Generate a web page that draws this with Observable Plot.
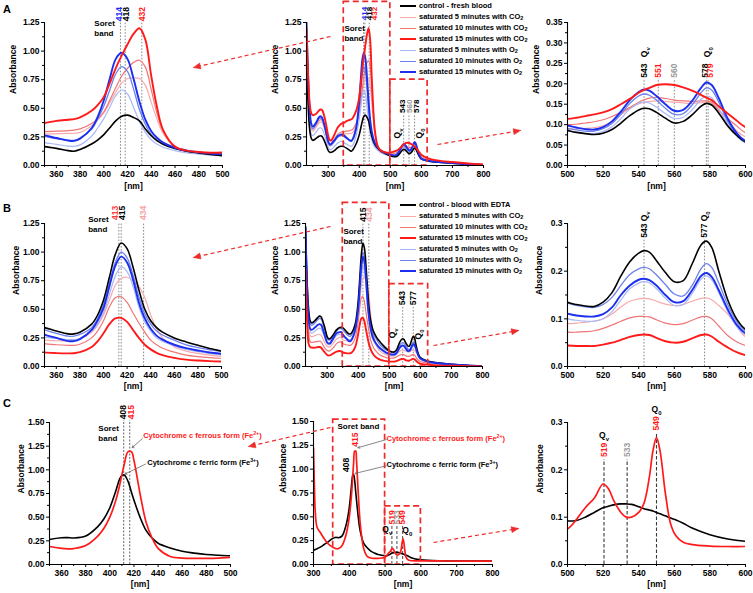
<!DOCTYPE html>
<html><head><meta charset="utf-8">
<script src="https://cdn.jsdelivr.net/npm/d3@7"></script>
<script src="https://cdn.jsdelivr.net/npm/@observablehq/plot@0.6"></script>
<style>
body{margin:0;background:#fff;}
#fig{position:relative;width:753px;height:593px;overflow:hidden;background:#fff;font-family:'Liberation Sans',Arial,Helvetica,sans-serif;}
#fig svg{position:absolute;overflow:visible;}
.lg{position:absolute;font-size:7.5px;font-weight:bold;white-space:nowrap;line-height:10px;height:10px;}
.lg .sw{display:inline-block;width:16px;height:0;vertical-align:middle;margin-right:3px;}
.lg sub{font-size:5.5px;vertical-align:-1px;}
.letter{position:absolute;font-size:11px;font-weight:bold;}
</style></head><body><div id="fig"></div>
<script>
// ---------- DATA ----------
// wavelength grid (nm) for rows A and B
const wlAB = [230,235,240,245,250, 260,270,275,280,290, 300,305,310,320,330, 340,345,350,360,370,
  375,380,390,395,400, 405,410,415,420,425, 430,435,440,445,450, 460,470,480,490,500,
  505,510,515,520,525, 530,535,540,543,546, 550,555,560,565,570, 575,578,581,585,590,
  595,600,620,650,700, 750,800];

// Row A – fresh blood
const A_control = [0.95,0.55,0.32,0.24,0.22, 0.235,0.255,0.26,0.255,0.2, 0.13,0.115,0.115,0.13,0.155, 0.168,0.168,0.165,0.15,0.13,
  0.125,0.14,0.19,0.225,0.27, 0.33,0.39,0.43,0.44,0.42, 0.39,0.32,0.26,0.215,0.185, 0.148,0.125,0.11,0.097,0.086,
  0.081,0.078,0.076,0.079,0.088, 0.104,0.122,0.136,0.14,0.139, 0.13,0.116,0.104,0.108,0.124, 0.145,0.152,0.148,0.128,0.097,
  0.074,0.058,0.04,0.03,0.02, 0.012,0.006];
const A_co2_5 = [1.05,0.65,0.42,0.32,0.3, 0.33,0.37,0.38,0.375,0.3, 0.19,0.17,0.175,0.215,0.255, 0.27,0.275,0.275,0.278,0.28,
  0.282,0.29,0.35,0.4,0.46, 0.55,0.64,0.72,0.76,0.765, 0.76,0.7,0.55,0.4,0.28, 0.16,0.122,0.105,0.095,0.09,
  0.09,0.091,0.093,0.097,0.108, 0.124,0.14,0.151,0.155,0.157, 0.158,0.157,0.155,0.153,0.152, 0.154,0.155,0.151,0.13,0.106,
  0.085,0.07,0.048,0.035,0.024, 0.014,0.007];
const A_co2_10 = [1.1,0.7,0.45,0.34,0.32, 0.35,0.39,0.4,0.395,0.32, 0.2,0.18,0.185,0.23,0.27, 0.29,0.295,0.296,0.3,0.305,
  0.31,0.32,0.37,0.41,0.47, 0.57,0.68,0.78,0.85,0.9, 0.92,0.86,0.66,0.45,0.3, 0.165,0.128,0.11,0.103,0.1,
  0.101,0.104,0.107,0.112,0.12, 0.13,0.142,0.155,0.161,0.165, 0.167,0.164,0.16,0.158,0.157, 0.158,0.158,0.155,0.135,0.115,
  0.097,0.08,0.055,0.04,0.027, 0.016,0.008];
const A_co2_15 = [1.2,0.8,0.55,0.46,0.44, 0.45,0.48,0.49,0.485,0.4, 0.26,0.22,0.22,0.27,0.33, 0.36,0.37,0.372,0.39,0.4,
  0.405,0.42,0.48,0.53,0.6, 0.72,0.85,0.96,1.06,1.15, 1.2,1.1,0.78,0.5,0.31, 0.165,0.13,0.118,0.112,0.114,
  0.117,0.121,0.125,0.13,0.138, 0.15,0.163,0.178,0.185,0.19, 0.197,0.199,0.197,0.191,0.183, 0.173,0.166,0.16,0.145,0.127,
  0.11,0.094,0.065,0.045,0.03, 0.018,0.01];
const A_o2_5 = [1.0,0.62,0.38,0.28,0.26, 0.29,0.325,0.33,0.32,0.25, 0.16,0.14,0.14,0.165,0.195, 0.21,0.21,0.2,0.185,0.17,
  0.168,0.18,0.26,0.33,0.41, 0.51,0.61,0.66,0.625,0.51, 0.385,0.29,0.225,0.185,0.16, 0.13,0.11,0.1,0.09,0.085,
  0.081,0.078,0.078,0.083,0.095, 0.115,0.138,0.152,0.155,0.153, 0.143,0.127,0.115,0.118,0.136, 0.162,0.17,0.166,0.14,0.1,
  0.072,0.055,0.039,0.029,0.019, 0.01,0.005];
const A_o2_10 = [1.15,0.75,0.47,0.35,0.32, 0.36,0.41,0.415,0.405,0.32, 0.2,0.175,0.18,0.21,0.245, 0.26,0.26,0.255,0.235,0.22,
  0.22,0.24,0.32,0.41,0.52, 0.66,0.8,0.865,0.82,0.67, 0.49,0.36,0.27,0.22,0.185, 0.15,0.125,0.11,0.1,0.091,
  0.087,0.084,0.084,0.09,0.103, 0.125,0.152,0.17,0.175,0.172, 0.16,0.14,0.125,0.127,0.148, 0.178,0.19,0.185,0.155,0.108,
  0.076,0.057,0.04,0.03,0.02, 0.011,0.005];
const A_o2_15 = [1.25,0.8,0.5,0.37,0.34, 0.37,0.42,0.43,0.42,0.33, 0.21,0.185,0.19,0.22,0.255, 0.27,0.27,0.263,0.24,0.218,
  0.215,0.235,0.33,0.43,0.57, 0.76,0.93,0.985,0.93,0.76, 0.56,0.4,0.3,0.24,0.2, 0.155,0.13,0.115,0.105,0.098,
  0.093,0.089,0.088,0.094,0.108, 0.132,0.16,0.18,0.186,0.183, 0.17,0.15,0.134,0.136,0.158, 0.19,0.203,0.197,0.165,0.115,
  0.08,0.06,0.042,0.032,0.022, 0.012,0.006];

// Row B – blood with EDTA
const B_control = [1.22,0.75,0.5,0.4,0.38, 0.4,0.43,0.44,0.435,0.36, 0.26,0.24,0.245,0.28,0.32, 0.34,0.342,0.34,0.31,0.285,
  0.285,0.3,0.37,0.45,0.58, 0.78,0.98,1.08,1.03,0.87, 0.67,0.5,0.4,0.34,0.3, 0.25,0.215,0.185,0.158,0.135,
  0.13,0.127,0.126,0.135,0.155, 0.19,0.22,0.238,0.243,0.24, 0.222,0.197,0.178,0.18,0.215, 0.255,0.263,0.25,0.2,0.14,
  0.1,0.078,0.05,0.035,0.02, 0.01,0.004];
const B_co2_5 = [1.0,0.55,0.34,0.27,0.26, 0.27,0.28,0.28,0.275,0.22, 0.175,0.17,0.175,0.205,0.24, 0.255,0.255,0.233,0.225,0.225,
  0.228,0.24,0.3,0.36,0.45, 0.58,0.71,0.77,0.78,0.75, 0.7,0.6,0.45,0.33,0.25, 0.17,0.135,0.115,0.1,0.09,
  0.091,0.093,0.095,0.1,0.11, 0.125,0.137,0.142,0.143,0.142, 0.137,0.131,0.128,0.13,0.137, 0.143,0.144,0.14,0.128,0.11,
  0.085,0.062,0.04,0.028,0.016, 0.008,0.003];
const B_co2_10 = [0.95,0.5,0.28,0.22,0.21, 0.215,0.22,0.222,0.215,0.17, 0.14,0.135,0.14,0.165,0.2, 0.215,0.215,0.2,0.19,0.185,
  0.185,0.195,0.25,0.31,0.4, 0.52,0.6,0.61,0.56,0.47, 0.38,0.3,0.23,0.19,0.16, 0.125,0.1,0.087,0.078,0.072,
  0.072,0.073,0.075,0.08,0.087, 0.095,0.102,0.105,0.105,0.104, 0.098,0.091,0.088,0.09,0.097, 0.104,0.105,0.1,0.085,0.065,
  0.052,0.044,0.03,0.02,0.012, 0.006,0.002];
const B_co2_15 = [0.85,0.4,0.2,0.17,0.165, 0.165,0.17,0.17,0.165,0.13, 0.1,0.095,0.1,0.115,0.13, 0.135,0.133,0.123,0.117,0.115,
  0.116,0.125,0.17,0.22,0.29, 0.37,0.42,0.425,0.39,0.32, 0.25,0.19,0.15,0.12,0.1, 0.075,0.06,0.052,0.047,0.044,
  0.043,0.043,0.043,0.046,0.05, 0.056,0.062,0.066,0.067,0.066, 0.06,0.053,0.05,0.052,0.059, 0.066,0.067,0.063,0.052,0.04,
  0.03,0.024,0.016,0.01,0.006, 0.003,0.001];
const B_o2_5 = [1.15,0.66,0.4,0.31,0.29, 0.31,0.33,0.335,0.33,0.27, 0.2,0.19,0.195,0.235,0.27, 0.28,0.275,0.257,0.245,0.235,
  0.235,0.245,0.31,0.37,0.47, 0.63,0.79,0.87,0.83,0.7, 0.52,0.39,0.31,0.25,0.22, 0.18,0.15,0.13,0.112,0.1,
  0.097,0.095,0.095,0.1,0.115, 0.14,0.163,0.175,0.178,0.175, 0.163,0.143,0.128,0.13,0.153, 0.183,0.19,0.182,0.155,0.115,
  0.084,0.066,0.042,0.029,0.017, 0.009,0.003];
const B_o2_10 = [1.2,0.72,0.47,0.38,0.36, 0.38,0.41,0.42,0.415,0.34, 0.245,0.23,0.235,0.27,0.31, 0.33,0.332,0.32,0.29,0.265,
  0.265,0.28,0.34,0.42,0.54, 0.73,0.91,1.0,0.95,0.8, 0.61,0.46,0.37,0.31,0.275, 0.23,0.19,0.165,0.145,0.133,
  0.128,0.125,0.124,0.13,0.145, 0.17,0.193,0.205,0.208,0.205, 0.192,0.172,0.152,0.148,0.17, 0.205,0.216,0.208,0.175,0.13,
  0.095,0.075,0.048,0.033,0.019, 0.01,0.004];
const B_o2_15 = [1.22,0.7,0.42,0.33,0.32, 0.34,0.365,0.37,0.365,0.29, 0.21,0.2,0.205,0.25,0.29, 0.3,0.3,0.278,0.25,0.222,
  0.222,0.24,0.32,0.4,0.51, 0.7,0.88,0.96,0.91,0.76, 0.56,0.42,0.33,0.27,0.235, 0.19,0.16,0.14,0.122,0.111,
  0.107,0.105,0.105,0.11,0.124, 0.15,0.17,0.182,0.184,0.181, 0.17,0.15,0.135,0.137,0.16, 0.19,0.196,0.188,0.16,0.12,
  0.088,0.07,0.045,0.031,0.018, 0.009,0.004];

// Row C – cytochrome c
const wlC = [300,302,305,310,320, 330,340,350,360,365, 370,380,390,395,400, 405,408,410,412,415,
  418,420,425,430,435, 440,450,460,470,480, 490,500,505,510,515, 520,523,526,530,533,
  536,540,543,546,548, 550,552,555,558,561, 565,570,580,590,600, 650,700,750,800];
const C_ferric = [0.15,0.153,0.158,0.165,0.185, 0.21,0.235,0.265,0.283,0.284, 0.28,0.3,0.4,0.48,0.6, 0.78,0.9,0.94,0.945,0.88,
  0.76,0.68,0.5,0.36,0.28, 0.225,0.175,0.14,0.12,0.105, 0.097,0.092,0.093,0.1,0.11, 0.12,0.123,0.126,0.128,0.128,
  0.127,0.122,0.118,0.115,0.113, 0.11,0.107,0.103,0.098,0.094, 0.087,0.077,0.063,0.054,0.049, 0.04,0.037,0.036,0.035];
const C_ferrous = [1.22,0.9,0.55,0.39,0.33, 0.27,0.22,0.19,0.17,0.165, 0.168,0.2,0.3,0.38,0.5, 0.68,0.83,0.95,1.06,1.19,
  1.19,1.1,0.75,0.45,0.28, 0.17,0.085,0.068,0.065,0.065, 0.068,0.075,0.095,0.12,0.14, 0.17,0.16,0.135,0.11,0.1,
  0.1,0.11,0.13,0.185,0.24, 0.268,0.24,0.15,0.085,0.06, 0.047,0.042,0.039,0.038,0.038, 0.037,0.036,0.035,0.035];

const legendA = ["control - fresh blood","saturated 5 minutes with CO2","saturated 10 minutes with CO2","saturated 15 minutes with CO2",
  "saturated 5 minutes with O2","saturated 10 minutes with O2","saturated 15 minutes with O2"];
const legendB = ["control - blood with EDTA","saturated 5 minutes with CO2","saturated 10 minutes with CO2","saturated 15 minutes with CO2",
  "saturated 5 minutes with O2","saturated 10 minutes with O2","saturated 15 minutes with O2"];
const seriesKeys = ["control","co2_5","co2_10","co2_15","o2_5","o2_10","o2_15"];

// ---------- STYLE ----------
const FONT = "'Liberation Sans', Arial, Helvetica, sans-serif";
const BLUE = "#1c2fef", RED = "#ff1a1a", GRAY = "#9a9a9a", PINK = "#f5a3a3", BOX = "#ee2b2b";
const STY = {
  control: {stroke: "#000", w: 1.6},
  co2_5: {stroke: "#f7abab", w: 1.2},
  co2_10: {stroke: "#f07676", w: 1.2},
  co2_15: {stroke: "#ff1a1a", w: 1.9},
  o2_5: {stroke: "#aab8f6", w: 1.2},
  o2_10: {stroke: "#6d82ee", w: 1.3},
  o2_15: {stroke: "#1c2fef", w: 1.9},
  ferric: {stroke: "#000", w: 1.6},
  ferrous: {stroke: "#ff1a1a", w: 1.7}
};
const ORDER = ["co2_5","co2_10","o2_5","o2_10","control","o2_15","co2_15"];
const A = {control: A_control, co2_5: A_co2_5, co2_10: A_co2_10, co2_15: A_co2_15, o2_5: A_o2_5, o2_10: A_o2_10, o2_15: A_o2_15};
const B = {control: B_control, co2_5: B_co2_5, co2_10: B_co2_10, co2_15: B_co2_15, o2_5: B_o2_5, o2_10: B_o2_10, o2_15: B_o2_15};
const C = {ferric: C_ferric, ferrous: C_ferrous};

const fig = document.getElementById("fig");
const M = {l: 40, r: 14, t: 30, b: 32};
const rng = (a, b, s) => d3.range(0, Math.round((b - a) / s) + 1).map(i => +(a + i * s).toFixed(4));
const rows = (wl, v) => wl.map((w, i) => ({wl: w, a: v[i]}));

function subify(svg) {
  svg.querySelectorAll("text").forEach(t => {
    const spans = t.querySelectorAll("tspan");
    const nodes = spans.length ? [...spans] : [t];
    nodes.forEach(n => {
      const s = n.textContent;
      if (!/[_^]\{/.test(s)) return;
      n.textContent = "";
      const re = /([_^])\{([^}]*)\}/g; let last = 0, m;
      while ((m = re.exec(s))) {
        if (m.index > last) n.appendChild(document.createTextNode(s.slice(last, m.index)));
        const ts = document.createElementNS("http://www.w3.org/2000/svg", "tspan");
        ts.setAttribute("baseline-shift", m[1] === "_" ? "sub" : "super");
        ts.setAttribute("font-size", "70%");
        ts.textContent = m[2];
        n.appendChild(ts);
        last = re.lastIndex;
      }
      if (last < s.length) n.appendChild(document.createTextNode(s.slice(last)));
    });
  });
}

function panel(o) {
  const x0 = o.xd[0], y0 = o.yd[0];
  const marks = [];
  if (o.vlines) marks.push(Plot.ruleX(o.vlines, {x: "x", y1: y0, y2: "y2", stroke: o.vs.stroke, strokeWidth: o.vs.w, strokeDasharray: o.vs.dash}));
  for (const k of o.order) {
    const st = STY[k];
    marks.push(Plot.line(rows(o.wl, o.data[k]), {x: "wl", y: "a", stroke: st.stroke, strokeWidth: st.w, curve: "catmull-rom", clip: true}));
  }
  if (o.boxes) marks.push(Plot.rect(o.boxes, {x1: "x1", x2: "x2", y1: "y1", y2: "y2", fill: "none", stroke: BOX, strokeWidth: 1.7, strokeDasharray: "6,3.5"}));
  if (o.leaders) marks.push(Plot.arrow(o.leaders, {x1: "x1", y1: "y1", x2: "x2", y2: "y2", stroke: "#6a6a6a", strokeWidth: 0.8, headLength: 4}));
  marks.push(
    Plot.ruleY([y0], {stroke: "#000", strokeWidth: 1.1}),
    Plot.ruleX([x0], {stroke: "#000", strokeWidth: 1.1}),
    Plot.axisX(o.xt, {tickSize: 3, tickPadding: 2, tickFormat: d => String(d), label: null}),
    Plot.axisX(o.xm, {tickSize: 2, tickFormat: () => "", label: null}),
    Plot.axisY(o.yt, {tickSize: 3, tickPadding: 2, tickFormat: d3.format(o.yf), label: null}),
    Plot.axisY(o.ym, {tickSize: 2, tickFormat: () => "", label: null}),
    Plot.text([0], {frameAnchor: "bottom", dy: o.nmOff, text: () => "[nm]"}),
    Plot.text([0], {frameAnchor: "left", dx: -o.labOff, rotate: -90, text: () => "Absorbance"})
  );
  if (o.rl) marks.push(Plot.text(o.rl, {x: "x", y: "y", text: "t", fill: "c", rotate: -90, textAnchor: "start", fontSize: o.rlSize || 8.5}));
  if (o.rq) marks.push(Plot.text(o.rq, {x: "x", y: "y", text: "t", fill: "#000", rotate: -90, textAnchor: "middle", fontSize: 8.5}));
  if (o.hq) marks.push(Plot.text(o.hq, {x: "x", y: "y", text: "t", fill: "#000", textAnchor: "middle", fontSize: 8.5}));
  if (o.notes) marks.push(Plot.text(o.notes, {x: "x", y: "y", text: "t", fill: "#000", textAnchor: "start", lineAnchor: "top", lineHeight: 1.2, fontSize: 8}));
  if (o.anns) marks.push(Plot.text(o.anns, {x: "x", y: "y", text: "t", fill: "c", textAnchor: "start", fontSize: 7.5}));
  const svg = Plot.plot({
    width: o.fw + M.l + M.r, height: o.fh + M.t + M.b,
    marginLeft: M.l, marginRight: M.r, marginTop: M.t, marginBottom: M.b,
    x: {domain: o.xd, label: null}, y: {domain: o.yd, label: null},
    color: {type: "identity"},
    style: {fontFamily: FONT, fontSize: "8.5px", fontWeight: "bold", background: "transparent", overflow: "visible"},
    marks
  });
  svg.style.position = "absolute";
  svg.style.left = (o.left - M.l) + "px";
  svg.style.top = (o.top - M.t) + "px";
  svg.style.overflow = "visible";
  svg.style.background = "transparent";
  svg.style.fontFamily = FONT;
  svg.style.fontWeight = "bold";
  svg.style.maxWidth = "none";
  subify(svg);
  fig.appendChild(svg);
}

const dotted = {stroke: "#8a8a8a", w: 1, dash: "1.6,1.6"};
const dashed = {stroke: "#4a4a4a", w: 1, dash: "3,2"};
const yT125 = rng(0, 1.25, 0.25), yM125 = rng(0.125, 1.125, 0.25);
const yT150 = rng(0, 1.5, 0.25), yM150 = rng(0.125, 1.375, 0.25);
const xTL = rng(360, 500, 20), xML = rng(350, 490, 20);
const xTM = rng(300, 800, 100), xMM = rng(250, 750, 100);
const xTR = rng(500, 600, 20), xMR = rng(510, 590, 20);

// ---------- ROW A ----------
panel({left: 44, top: 22, fw: 178, fh: 143, xd: [350, 500], yd: [0, 1.25], xt: xTL, xm: xML, yt: yT125, ym: yM125, yf: ".2f",
  labOff: 31, nmOff: 23, wl: wlAB, data: A, order: ORDER, vs: dotted,
  vlines: [{x: 414, y2: 1.25}, {x: 418, y2: 1.25}, {x: 432, y2: 1.25}],
  rl: [{x: 412.8, y: 1.262, t: "414", c: BLUE}, {x: 419, y: 1.262, t: "418", c: "#000"}, {x: 432, y: 1.262, t: "432", c: RED}],
  notes: [{x: 392, y: 1.275, t: "Soret\nband"}]});

panel({left: 306, top: 22, fw: 177, fh: 143, xd: [230, 800], yd: [0, 1.25], xt: xTM, xm: xMM, yt: yT125, ym: yM125, yf: ".2f",
  labOff: 31, nmOff: 23, wl: wlAB, data: A, order: ORDER, vs: dotted, rlSize: 8,
  vlines: [{x: 414, y2: 1.26}, {x: 418, y2: 1.26}, {x: 432, y2: 1.26}, {x: 543, y2: 0.45}, {x: 560, y2: 0.45}, {x: 578, y2: 0.45}],
  rl: [{x: 415, y: 1.27, t: "414", c: BLUE}, {x: 432, y: 1.27, t: "418", c: "#000"}, {x: 449, y: 1.27, t: "432", c: RED},
       {x: 540, y: 0.46, t: "543", c: "#000"}, {x: 562, y: 0.46, t: "560", c: GRAY}, {x: 584, y: 0.46, t: "578", c: "#000"}],
  rq: [{x: 523, y: 0.28, t: "Q_{v}"}, {x: 594, y: 0.28, t: "Q_{0}"}],
  notes: [{x: 352, y: 1.235, t: "Soret\nband"}],
  boxes: [{x1: 350, x2: 500, y1: 0, y2: 1.43}, {x1: 500, x2: 620, y1: 0, y2: 0.75}]});

panel({left: 567, top: 22, fw: 178, fh: 143, xd: [500, 600], yd: [0, 0.35], xt: xTR, xm: xMR, yt: rng(0, 0.35, 0.05), ym: rng(0.025, 0.325, 0.05), yf: ".2f",
  labOff: 31, nmOff: 23, wl: wlAB, data: A, order: ORDER, vs: dotted,
  vlines: [{x: 543, y2: 0.212}, {x: 551, y2: 0.212}, {x: 560, y2: 0.212}, {x: 578, y2: 0.212}, {x: 579, y2: 0.212}],
  rl: [{x: 543, y: 0.215, t: "543", c: "#000"}, {x: 551, y: 0.215, t: "551", c: RED}, {x: 560, y: 0.215, t: "560", c: GRAY},
       {x: 577.3, y: 0.215, t: "578", c: "#000"}, {x: 580.3, y: 0.215, t: "579", c: RED},
       {x: 543, y: 0.265, t: "Q_{v}", c: "#000"}, {x: 578.5, y: 0.265, t: "Q_{0}", c: "#000"}]});

// ---------- ROW B ----------
panel({left: 44, top: 223, fw: 177, fh: 143, xd: [350, 500], yd: [0, 1.25], xt: xTL, xm: xML, yt: yT125, ym: yM125, yf: ".2f",
  labOff: 28, nmOff: 22, wl: wlAB, data: B, order: ORDER, vs: dotted,
  vlines: [{x: 413, y2: 1.25}, {x: 415, y2: 1.25}, {x: 434, y2: 1.25}],
  rl: [{x: 409.6, y: 1.28, t: "413", c: "#ff3c3c"}, {x: 415.8, y: 1.28, t: "415", c: "#000"}, {x: 434, y: 1.28, t: "434", c: PINK}],
  notes: [{x: 387, y: 1.32, t: "Soret\nband"}]});

panel({left: 305, top: 223, fw: 177, fh: 143, xd: [230, 800], yd: [0, 1.25], xt: xTM, xm: xMM, yt: yT125, ym: yM125, yf: ".2f",
  labOff: 30, nmOff: 22, wl: wlAB, data: B, order: ORDER, vs: dotted,
  vlines: [{x: 415, y2: 1.26}, {x: 434, y2: 1.26}, {x: 543, y2: 0.52}, {x: 577, y2: 0.52}],
  rl: [{x: 415, y: 1.265, t: "415", c: "#000"}, {x: 434, y: 1.265, t: "434", c: PINK},
       {x: 543, y: 0.535, t: "543", c: "#000"}, {x: 577, y: 0.535, t: "577", c: "#000"}],
  rq: [{x: 509, y: 0.29, t: "Q_{v}"}, {x: 593, y: 0.28, t: "Q_{0}"}],
  notes: [{x: 352, y: 1.215, t: "Soret\nband"}],
  boxes: [{x1: 350, x2: 500, y1: 0, y2: 1.43}, {x1: 500, x2: 625, y1: 0, y2: 0.72}]});

panel({left: 567, top: 223, fw: 178, fh: 143, xd: [500, 600], yd: [0, 0.3], xt: xTR, xm: xMR, yt: rng(0, 0.3, 0.1), ym: rng(0.05, 0.25, 0.1), yf: ".1f",
  labOff: 28, nmOff: 22, wl: wlAB, data: B, order: ORDER, vs: dotted,
  vlines: [{x: 543, y2: 0.265}, {x: 577, y2: 0.265}],
  rl: [{x: 543, y: 0.27, t: "543 Q_{v}", c: "#000"}, {x: 577, y: 0.27, t: "577 Q_{0}", c: "#000"}]});

// ---------- ROW C ----------
panel({left: 49, top: 422, fw: 181, fh: 142, xd: [350, 500], yd: [0, 1.5], xt: xTL, xm: xML, yt: yT150, ym: yM150, yf: ".2f",
  labOff: 28, nmOff: 22, wl: wlC, data: C, order: ["ferric", "ferrous"], vs: {stroke: "#555", w: 0.9, dash: "2,1.5"},
  vlines: [{x: 411.5, y2: 1.52}, {x: 416.5, y2: 1.52}],
  rl: [{x: 411, y: 1.535, t: "408", c: "#000"}, {x: 417.5, y: 1.535, t: "415", c: RED}],
  notes: [{x: 390.5, y: 1.48, t: "Soret\nband"}],
  anns: [{x: 427.6, y: 1.36, t: "Cytochrome c ferrous form (Fe^{2+})", c: RED}, {x: 431, y: 1.08, t: "Cytochrome c ferric form (Fe^{3+})", c: "#000"}],
  leaders: [{x1: 427, y1: 1.33, x2: 418.5, y2: 1.235}, {x1: 429.5, y1: 1.06, x2: 412.5, y2: 0.955}]});

panel({left: 313, top: 421, fw: 179, fh: 143, xd: [300, 800], yd: [0, 1.5], xt: xTM, xm: xMM, yt: yT150, ym: yM150, yf: ".2f",
  labOff: 30, nmOff: 22, wl: wlC, data: C, order: ["ferric", "ferrous"], vs: dashed,
  vlines: [{x: 519, y2: 0.4}, {x: 533, y2: 0.4}, {x: 549, y2: 0.4}],
  rl: [{x: 519, y: 0.42, t: "519", c: RED}, {x: 533, y: 0.42, t: "533", c: GRAY}, {x: 549, y: 0.42, t: "549", c: RED},
       {x: 417, y: 1.235, t: "415", c: RED}, {x: 391, y: 0.97, t: "408", c: "#000"}],
  hq: [{x: 506, y: 0.37, t: "Q_{v}"}, {x: 562, y: 0.36, t: "Q_{0}"}],
  notes: [{x: 367, y: 1.49, t: "Soret band"}],
  anns: [{x: 504, y: 1.325, t: "Cytochrome c ferrous form (Fe^{2+})", c: RED}, {x: 504, y: 1.05, t: "Cytochrome c ferric form (Fe^{3+})", c: "#000"}],
  leaders: [{x1: 503, y1: 1.31, x2: 424, y2: 1.225}, {x1: 503, y1: 1.035, x2: 416, y2: 0.955}],
  boxes: [{x1: 355, x2: 500, y1: 0, y2: 1.52}, {x1: 500, x2: 600, y1: 0, y2: 0.61}]});

panel({left: 567, top: 422, fw: 178, fh: 142, xd: [500, 600], yd: [0, 0.3], xt: xTR, xm: xMR, yt: rng(0, 0.3, 0.1), ym: rng(0.05, 0.25, 0.1), yf: ".1f",
  labOff: 27, nmOff: 22, wl: wlC, data: C, order: ["ferric", "ferrous"], vs: {stroke: "#3a3a3a", w: 1.1, dash: "3.5,2"},
  vlines: [{x: 520.5, y2: 0.222}, {x: 533.5, y2: 0.222}, {x: 550, y2: 0.275}],
  rl: [{x: 520.5, y: 0.227, t: "519", c: RED}, {x: 533.5, y: 0.227, t: "533", c: GRAY}, {x: 550, y: 0.283, t: "549", c: RED}],
  hq: [{x: 520.5, y: 0.273, t: "Q_{v}"}, {x: 550, y: 0.327, t: "Q_{0}"}]});

// ---------- zoom arrows (figure coordinates) ----------
const ARROWS = [
  {x1: 330, y1: 36, x2: 193, y2: 67}, {x1: 437, y1: 144, x2: 520, y2: 130},
  {x1: 330, y1: 226, x2: 193, y2: 257}, {x1: 433, y1: 345, x2: 518, y2: 330},
  {x1: 330, y1: 427, x2: 248, y2: 446}, {x1: 433, y1: 542, x2: 518, y2: 528}
];
const heads = ARROWS.flatMap((a, k) => {
  const dx = a.x2 - a.x1, dy = a.y2 - a.y1, L = Math.hypot(dx, dy), ux = dx / L, uy = dy / L;
  const bx = a.x2 - ux * 7, by = a.y2 - uy * 7;
  return [{k, x: a.x2, y: a.y2}, {k, x: bx - uy * 3, y: by + ux * 3}, {k, x: bx + uy * 3, y: by - ux * 3}, {k, x: a.x2, y: a.y2}];
});
const ov = Plot.plot({width: 753, height: 593, margin: 0,
  x: {type: "identity", axis: null}, y: {type: "identity", axis: null},
  style: {background: "transparent", overflow: "visible"},
  marks: [
    Plot.link(ARROWS, {x1: "x1", y1: "y1", x2: "x2", y2: "y2", stroke: BOX, strokeWidth: 1.2, strokeDasharray: "4,3"}),
    Plot.line(heads, {x: "x", y: "y", z: "k", fill: BOX, stroke: BOX, strokeWidth: 0.6})
  ]});
ov.style.position = "absolute"; ov.style.left = "0px"; ov.style.top = "0px"; ov.style.background = "transparent"; ov.style.maxWidth = "none";
fig.appendChild(ov);

// ---------- legends ----------
function legend(labels, left, top) {
  labels.forEach((lab, i) => {
    const st = STY[seriesKeys[i]];
    const d = document.createElement("div");
    d.className = "lg";
    d.style.left = left + "px";
    d.style.top = (top + i * 11 - 5) + "px";
    const html = lab.replace(/(CO|O)2$/, "$1<sub>2</sub>");
    d.innerHTML = `<span class="sw" style="border-top:${st.w + 0.4}px solid ${st.stroke}"></span>${html}`;
    fig.appendChild(d);
  });
}
legend(legendA, 400, 6);
legend(legendB, 400, 205);

// ---------- panel letters ----------
[["A", 3, 3], ["B", 3, 202], ["C", 3, 397]].forEach(([t, x, y]) => {
  const d = document.createElement("div");
  d.className = "letter"; d.textContent = t; d.style.left = x + "px"; d.style.top = y + "px";
  fig.appendChild(d);
});
</script></body></html>
